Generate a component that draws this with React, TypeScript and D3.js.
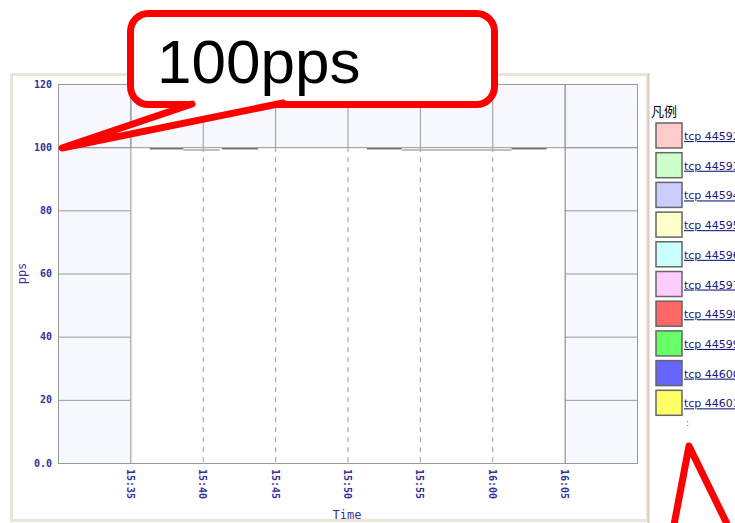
import * as React from 'react'
import * as d3 from 'd3'

// tick labels along the time axis and the pps axis
const timeTicks = ['15:35', '15:40', '15:45', '15:50', '15:55', '16:00', '16:05']
const ppsTicks = [0, 20, 40, 60, 80, 100, 120]

// total stacked traffic (area under all flows)
const totalTimes = ['15:35:00', '16:05:00']
const totalValues = [100, 100]

// flow top edges, NaN breaks the line
const flowATimes = ['15:36:20', '15:38:40', '15:40:00', '15:41:20', '15:43:50', '15:47:00', '15:51:20', '15:53:45', '15:58:00', '16:01:20', '16:03:45']
const flowAValues = [99.5, 99.5, NaN, 99.5, 99.5, NaN, 99.5, 99.5, NaN, 99.5, 99.5]
const flowBTimes = ['15:38:40', '15:41:10', '15:47:00', '15:53:45', '16:01:20']
const flowBValues = [99.1, 99.1, NaN, 99.1, 99.1]

// legend
const legendNames = ['tcp 44592', 'tcp 44593', 'tcp 44594', 'tcp 44595', 'tcp 44596', 'tcp 44597', 'tcp 44598', 'tcp 44599', 'tcp 44600', 'tcp 44601']
const legendColors = ['#ffcccc', '#ccffcc', '#ccccff', '#ffffcc', '#ccffff', '#ffccff', '#ff6666', '#66ff66', '#6666ff', '#ffff66']

const parse = d3.timeParse('%H:%M:%S')
const parseTick = d3.timeParse('%H:%M')

const App = () => {
    const width = 735
    const height = 523
    const left = 58, right = 637, top = 84, bottom = 463

    const x = d3.scaleTime()
        .domain([parseTick('15:30'), parseTick('16:10')])
        .range([left, right])
    const y = d3.scaleLinear().domain([0, 120]).range([bottom, top])

    const area = d3.area<[Date, number]>()
        .x(d => x(d[0]))
        .y0(y(0))
        .y1(d => y(d[1]))
    const totalPts = totalTimes.map((t, i) => [parse(t), totalValues[i]] as [Date, number])

    const line = d3.line<[Date, number]>()
        .defined(d => !isNaN(d[1]))
        .x(d => x(d[0]))
        .y(d => y(d[1]))
    const flowA = flowATimes.map((t, i) => [parse(t), flowAValues[i]] as [Date, number])
    const flowB = flowBTimes.map((t, i) => [parse(t), flowBValues[i]] as [Date, number])

    const areaStart = x(totalPts[0][0])
    const areaEnd = x(totalPts[totalPts.length - 1][0])
    const tickFont = { fontFamily: 'DejaVu Sans Mono', fontSize: 10, fontWeight: 'bold' as const, fill: '#333399' }

    return (
        <svg width={width} height={height} style={{ position: 'absolute', left: 0, top: 0, background: '#fff' }}>
            {/* frame */}
            <rect x={11.5} y={74.5} width={636} height={446} fill="#fff" stroke="#ece4d8" strokeWidth={3} />
            <line x1={648.5} x2={648.5} y1={73} y2={523} stroke="#d8cfc2" strokeWidth={2} />

            {/* plot */}
            <rect x={left} y={top} width={right - left} height={bottom - top} fill="#f7f8fe" />
            {ppsTicks.map(t => (
                <line key={'h' + t} x1={left} x2={right} y1={y(t) + 0.5} y2={y(t) + 0.5} stroke="#999" />
            ))}
            {timeTicks.map(t => (
                <line key={'v' + t} x1={x(parseTick(t)) + 0.5} x2={x(parseTick(t)) + 0.5} y1={top} y2={bottom} stroke="#999" />
            ))}
            <path d={area(totalPts)} fill="#fff" />
            {timeTicks.map(t => {
                const px = x(parseTick(t))
                if (px <= areaStart + 1 || px >= areaEnd - 1) return null
                return <line key={'d' + t} x1={px + 0.5} x2={px + 0.5} y1={y(100)} y2={bottom} stroke="#999" strokeDasharray="5,5" />
            })}
            <line x1={left} x2={right} y1={y(100) + 0.5} y2={y(100) + 0.5} stroke="#999" />
            <line x1={areaStart + 0.5} x2={areaStart + 0.5} y1={top} y2={bottom} stroke="#999" />
            <line x1={areaEnd + 0.5} x2={areaEnd + 0.5} y1={top} y2={bottom} stroke="#999" />
            <path d={line(flowB)} fill="none" stroke="#aaa" strokeWidth={1.5} />
            <path d={line(flowA)} fill="none" stroke="#777" strokeWidth={1.5} />
            <rect x={left + 0.5} y={top + 0.5} width={right - left} height={bottom - top} fill="none" stroke="#999" />

            {/* axes */}
            {ppsTicks.map(t => (
                <text key={'yl' + t} x={52} y={y(t)} textAnchor="end" dominantBaseline="central" {...tickFont}>
                    {t === 0 ? '0.0' : t}
                </text>
            ))}
            {timeTicks.map(t => (
                <text key={'xl' + t} transform={`translate(${x(parseTick(t))},469) rotate(90)`}
                    dominantBaseline="central" {...tickFont}>{t}</text>
            ))}
            <text x={347} y={515} textAnchor="middle" dominantBaseline="central"
                fontFamily="DejaVu Sans Mono" fontSize={12} fill="#333399">Time</text>
            <text transform={`translate(22,${(top + bottom) / 2}) rotate(-90)`} textAnchor="middle" dominantBaseline="central"
                fontFamily="DejaVu Sans Mono" fontSize={12} fill="#333399">pps</text>

            {/* legend */}
            <text x={651} y={110} dominantBaseline="central" fontFamily="Noto Sans CJK SC" fontSize={13} fill="#000">凡例</text>
            {legendNames.map((n, i) => (
                <g key={n} transform={`translate(0,${i * 29.7})`}>
                    <rect x={656} y={123} width={26} height={25} fill={legendColors[i]} stroke="#666" strokeWidth={1.5} />
                    <text x={684} y={140} fontFamily="DejaVu Sans" fontSize={11} fill="#1a1a80" textDecoration="underline">{n}</text>
                </g>
            ))}
            <text x={686} y={426} fontFamily="DejaVu Sans" fontSize={9} fill="#666">:</text>

            {/* callout */}
            <rect x={130.5} y={13.5} width={364} height={91} rx={18} fill="#fff" stroke="red" strokeWidth={7} />
            <polygon points="195,101 62,148 282,101" fill="#fff" />
            <polyline points="192,104 62,148 283,103" fill="none" stroke="red" strokeWidth={7} strokeLinejoin="round" strokeLinecap="round" />
            <text x={157} y={83} fontFamily="Liberation Sans, Arial" fontSize={62} fill="#000">100pps</text>

            <polygon points="673,530 689,446 730,530" fill="#fff" stroke="red" strokeWidth={7} strokeLinejoin="round" />
        </svg>
    )
}

export default App
